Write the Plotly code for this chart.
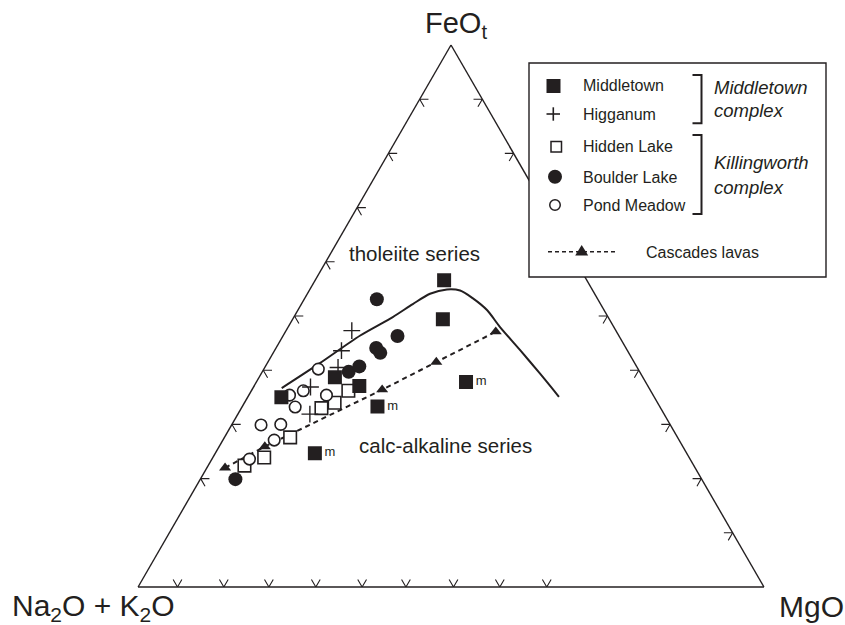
import plotly.graph_objects as go

W, H = 845, 625
FONT = "Liberation Sans, Arial, Helvetica, sans-serif"
INK = "#231f20"

# ---- data (wt %, normalised): FeOt, Na2O+K2O, MgO ----
midd_feo = [56.6, 49.4, 38.7, 37.1, 35.0, 33.3, 37.8, 24.7]
midd_alk = [22.8, 26.6, 49.2, 46.1, 59.6, 45.1, 28.7, 59.4]
midd_mgo = [20.6, 24.0, 12.1, 16.8, 5.4, 21.6, 33.5, 15.9]
midd_lab = ["", "", "", "", "", "m", "m", "m"]

higg_feo = [47.3, 43.6, 40.5, 36.9, 31.9]
higg_alk = [42.2, 45.7, 47.8, 54.0, 56.6]
higg_mgo = [10.5, 10.7, 11.7, 9.1, 11.5]

hidd_feo = [36.2, 34.0, 33.0, 27.6, 23.9, 22.4]
hidd_alk = [48.3, 51.6, 54.2, 61.9, 67.9, 71.8]
hidd_mgo = [15.5, 14.4, 12.8, 10.5, 8.2, 5.8]

bould_feo = [53.1, 46.3, 44.1, 43.2, 39.7, 40.7, 19.9]
bould_alk = [35.3, 35.4, 39.9, 39.7, 46.5, 44.3, 74.5]
bould_mgo = [11.6, 18.3, 16.0, 17.1, 13.8, 15.0, 5.6]

pond_feo = [40.2, 35.4, 36.2, 35.4, 33.2, 29.9, 30.0, 27.1, 23.6]
pond_alk = [51.1, 58.1, 55.5, 52.2, 58.3, 65.4, 62.2, 64.7, 70.4]
pond_mgo = [8.7, 6.5, 8.3, 12.4, 8.5, 4.7, 7.8, 8.2, 6.0]

casc_feo = [22.0, 25.9, 36.4, 41.5, 47.1]
casc_alk = [75.1, 66.8, 42.8, 31.6, 19.3]
casc_mgo = [2.9, 7.3, 20.8, 26.9, 33.6]

# tholeiite / calc-alkaline dividing line
div_feo = [36.7, 41.3, 46.4, 49.8, 52.2, 54.1, 54.9, 54.7, 53.3, 51.1, 48.0, 43.7, 39.4, 35.1]
div_alk = [58.7, 50.3, 41.3, 34.4, 30.0, 26.3, 23.2, 21.2, 19.9, 18.7, 18.2, 17.1, 16.1, 15.2]
div_mgo = [4.6, 8.4, 12.3, 15.8, 17.8, 19.6, 21.9, 24.1, 26.8, 30.2, 33.8, 39.2, 44.5, 49.7]

# tick positions along the edges (percent)
left_ticks = [20, 30, 40, 50, 60, 70, 80, 90]          # FeOt along left edge
right_ticks = [10, 20, 30, 40, 50, 60, 70, 80, 90]     # FeOt along right edge
bottom_ticks = [6.3, 13.7, 20.9, 28.4, 35.8, 42.8, 50.4, 57.8, 65.3]  # MgO along base

ARM = 1.4  # chevron arm length (percent)


def chevrons():
    a, b, c = [], [], []
    def add(pts):
        for p in pts:
            a.append(p[0]); b.append(p[1]); c.append(p[2])
        a.append(None); b.append(None); c.append(None)
    for t in bottom_ticks:
        add([(ARM, 100 - t - ARM, t), (0, 100 - t, t), (ARM, 100 - t, t - ARM)])
    for t in left_ticks:
        add([(t, 100 - t - ARM, ARM), (t, 100 - t, 0), (t - ARM, 100 - t, ARM)])
    for t in right_ticks:
        add([(t, ARM, 100 - t - ARM), (t, 0, 100 - t), (t - ARM, ARM, 100 - t)])
    return a, b, c


def X(px):
    return px / W


def Y(py):
    return 1 - py / H


fig = go.Figure()

ta, tb, tc = chevrons()
fig.add_trace(go.Scatterternary(a=ta, b=tb, c=tc, mode="lines", cliponaxis=False,
                                line=dict(color=INK, width=1.1), hoverinfo="skip",
                                showlegend=False))

fig.add_trace(go.Scatterternary(a=div_feo, b=div_alk, c=div_mgo, mode="lines",
                                line=dict(color=INK, width=2, shape="spline", smoothing=0.8),
                                showlegend=False, hoverinfo="skip"))

fig.add_trace(go.Scatterternary(a=casc_feo, b=casc_alk, c=casc_mgo, mode="lines+markers",
                                name="Cascades lavas",
                                line=dict(color=INK, width=2, dash="5px,4px"),
                                marker=dict(symbol="triangle-up", size=10.5, color=INK),
                                showlegend=False))

fig.add_trace(go.Scatterternary(a=hidd_feo, b=hidd_alk, c=hidd_mgo, mode="markers",
                                name="Hidden Lake",
                                marker=dict(symbol="square", size=12.5, color="white",
                                            line=dict(color=INK, width=1.6)),
                                showlegend=False))

fig.add_trace(go.Scatterternary(a=pond_feo, b=pond_alk, c=pond_mgo, mode="markers",
                                name="Pond Meadow",
                                marker=dict(symbol="circle", size=11.5, color="white",
                                            line=dict(color=INK, width=1.6)),
                                showlegend=False))

fig.add_trace(go.Scatterternary(a=higg_feo, b=higg_alk, c=higg_mgo, mode="markers",
                                name="Higganum",
                                marker=dict(symbol="cross-thin-open", size=12, color=INK,
                                            line=dict(color=INK, width=1.4)),
                                showlegend=False))

fig.add_trace(go.Scatterternary(a=bould_feo, b=bould_alk, c=bould_mgo, mode="markers",
                                name="Boulder Lake",
                                marker=dict(symbol="circle", size=14, color=INK),
                                showlegend=False))

# Middletown: unlabelled and "m"-labelled samples
plain = [i for i, t in enumerate(midd_lab) if not t]
tagged = [i for i, t in enumerate(midd_lab) if t]
fig.add_trace(go.Scatterternary(a=[midd_feo[i] for i in plain], b=[midd_alk[i] for i in plain],
                                c=[midd_mgo[i] for i in plain], mode="markers",
                                name="Middletown",
                                marker=dict(symbol="square", size=14, color=INK),
                                showlegend=False))
fig.add_trace(go.Scatterternary(a=[midd_feo[i] for i in tagged], b=[midd_alk[i] for i in tagged],
                                c=[midd_mgo[i] for i in tagged], mode="markers+text",
                                name="Middletown (m)", text=[midd_lab[i] for i in tagged],
                                textposition="middle right",
                                textfont=dict(family=FONT, size=13, color=INK),
                                marker=dict(symbol="square", size=14, color=INK),
                                showlegend=False))

axis_common = dict(showgrid=False, showticklabels=False, ticks="", showline=True,
                   linecolor=INK, linewidth=1.4, title=dict(text=""))

annotations = []


def note(text, x, y, size, xanchor="left", italic=False):
    annotations.append(dict(
        text=text, x=X(x), y=Y(y), xref="paper", yref="paper",
        xanchor=xanchor, yanchor="middle", showarrow=False,
        font=dict(family=FONT, size=size, color=INK,
                  style="italic" if italic else "normal")))


# corner titles
note("FeO<sub>t</sub>", 456, 25, 29, xanchor="center")
note("Na<sub>2</sub>O + K<sub>2</sub>O", 10, 607, 30)
note("MgO", 777, 606, 30)

# field labels
note("tholeiite series", 414, 253, 20.5, xanchor="center")
note("calc-alkaline series", 445.5, 445, 20.5, xanchor="center")

# legend labels
leg_x = 581
note("Middletown", leg_x, 86, 16)
note("Higganum", leg_x, 114, 16)
note("Hidden Lake", leg_x, 147, 16)
note("Boulder Lake", leg_x, 177, 16)
note("Pond Meadow", leg_x, 205, 16)
note("Cascades lavas", 644, 252, 16)
note("Middletown", 712, 87, 18.5, italic=True)
note("complex", 712, 111, 18.5, italic=True)
note("Killingworth", 712, 163, 18.5, italic=True)
note("complex", 712, 187, 18.5, italic=True)

shapes = []


def rect(x0, y0, x1, y1, fill, lw=0):
    shapes.append(dict(type="rect", xref="paper", yref="paper", layer="above",
                       x0=X(x0), x1=X(x1), y0=Y(y1), y1=Y(y0),
                       fillcolor=fill, line=dict(color=INK, width=lw)))


def circ(cx, cy, d, fill, lw=0):
    r = d / 2
    shapes.append(dict(type="circle", xref="paper", yref="paper", layer="above",
                       x0=X(cx - r), x1=X(cx + r), y0=Y(cy + r), y1=Y(cy - r),
                       fillcolor=fill, line=dict(color=INK, width=lw)))


def path(pts, lw, fill=None, dash="solid", close=False):
    d = "M " + " L ".join(f"{X(x):.5f},{Y(y):.5f}" for x, y in pts)
    if close:
        d += " Z"
    s = dict(type="path", xref="paper", yref="paper", layer="above", path=d,
             line=dict(color=INK, width=lw, dash=dash))
    if fill:
        s["fillcolor"] = fill
    shapes.append(s)


# legend box
rect(529, 63, 826, 277, "white", lw=1.4)
# legend keys
rect(546.5, 79, 560.5, 93, INK)
path([(546.5, 114), (560, 114)], 1.6)
path([(553.3, 107.3), (553.3, 120.7)], 1.6)
rect(551, 141.5, 561.5, 152, "white", lw=1.5)
circ(555, 176.7, 14, INK)
circ(555, 205, 10.5, "white", lw=1.5)
path([(548, 251.7), (617, 251.7)], 1.5, dash="4px,3px")
path([(575.2, 255.5), (588.2, 255.5), (581.7, 245)], 0, fill=INK, close=True)
# brackets
path([(692.5, 75), (701.5, 75), (701.5, 123.3), (692.5, 123.3)], 2)
path([(692.5, 135), (701.5, 135), (701.5, 214), (692.5, 214)], 2)

fig.update_layout(
    width=W, height=H,
    margin=dict(l=0, r=0, t=0, b=0),
    paper_bgcolor="white",
    plot_bgcolor="white",
    showlegend=False,
    ternary=dict(
        sum=100,
        domain=dict(x=[138 / W, 764 / W], y=[1 - 587 / H, 1 - 45 / H]),
        bgcolor="white",
        aaxis=axis_common, baxis=axis_common, caxis=axis_common,
    ),
    annotations=annotations,
    shapes=shapes,
)

fig.write_html("out.html", config={"displayModeBar": False})
